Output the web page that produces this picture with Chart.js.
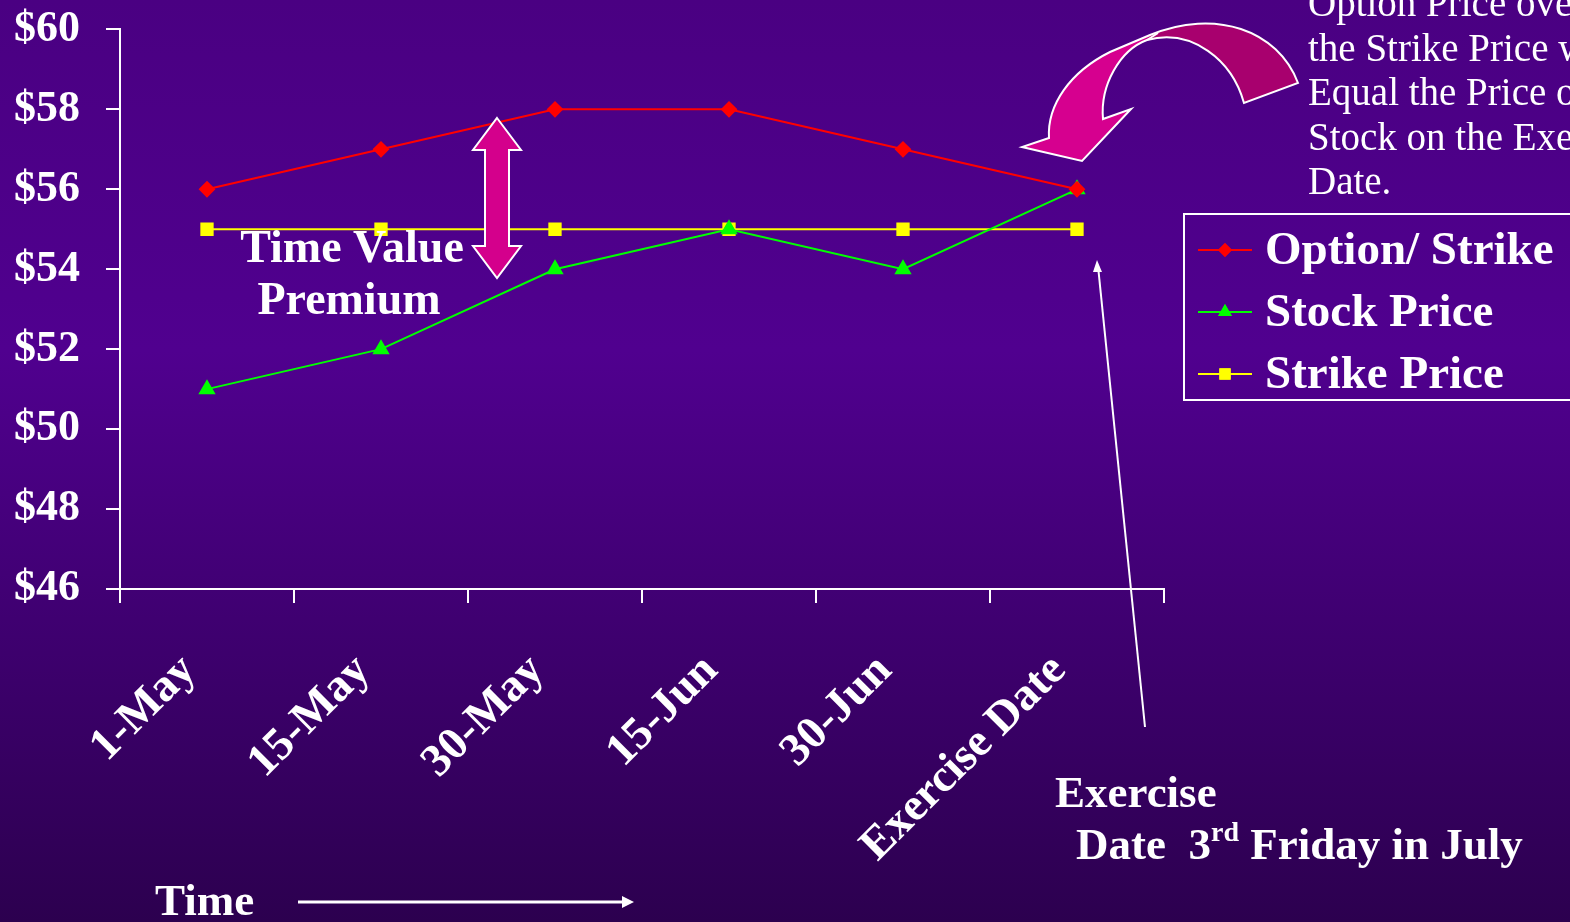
<!DOCTYPE html>
<html>
<head>
<meta charset="utf-8">
<script src="https://cdn.jsdelivr.net/npm/chart.js@4.4.0/dist/chart.umd.min.js"></script>
<style>
  html, body { margin: 0; padding: 0; background: #3c006a; }
  #wrap { width: 1570px; height: 922px; position: relative; }
</style>
</head>
<body>
<div id="wrap"><canvas id="optChart"></canvas></div>
<script>
// datos
var categorias = ['1-May', '15-May', '30-May', '15-Jun', '30-Jun', 'Exercise Date'];
var optionStrike = [56, 57, 58, 58, 57, 56];
var stockPrice = [51, 52, 54, 55, 54, 56];
var strikePrice = [55, 55, 55, 55, 55, 55];
var yTicks = [46, 48, 50, 52, 54, 56, 58, 60];

const serif = '"Liberation Serif", "Times New Roman", serif';

// fondo, flechas, textos y leyenda
const decor = {
  id: 'decor',
  beforeDraw(chart) {
    const c = chart.ctx;
    const g = c.createLinearGradient(0, 0, 0, chart.height);
    g.addColorStop(0, '#4a0082');
    g.addColorStop(0.38, '#50008f');
    g.addColorStop(1, '#2c004f');
    c.save();
    c.fillStyle = g;
    c.fillRect(0, 0, chart.width, chart.height);
    c.restore();
  },
  afterDraw(chart) {
    const c = chart.ctx;
    c.save();

    // flecha doble (time value premium)
    c.beginPath();
    c.moveTo(497, 118);
    c.lineTo(521, 150);
    c.lineTo(509, 150);
    c.lineTo(509, 246);
    c.lineTo(521, 246);
    c.lineTo(497, 278);
    c.lineTo(473, 246);
    c.lineTo(485, 246);
    c.lineTo(485, 150);
    c.lineTo(473, 150);
    c.closePath();
    c.fillStyle = '#d4008c';
    c.fill();
    c.strokeStyle = '#ffffff';
    c.lineWidth = 2;
    c.stroke();

    // flecha curva
    const g = c.createLinearGradient(1020, 0, 1300, 0);
    g.addColorStop(0, '#d6008f');
    g.addColorStop(0.45, '#d6008f');
    g.addColorStop(0.47, '#a8006e');
    g.addColorStop(1, '#a8006e');
    c.beginPath();
    c.moveTo(1298, 83);
    c.bezierCurveTo(1278, 30, 1215, 8, 1150, 35);
    c.lineTo(1110, 52);
    c.bezierCurveTo(1070, 72, 1047, 105, 1049, 138);
    c.lineTo(1022, 147);
    c.lineTo(1082, 161);
    c.lineTo(1131, 109);
    c.lineTo(1103, 119);
    c.bezierCurveTo(1100, 85, 1120, 50, 1147, 40);
    c.bezierCurveTo(1192, 28, 1232, 60, 1244, 103);
    c.closePath();
    c.fillStyle = g;
    c.fill();
    c.strokeStyle = '#ffffff';
    c.lineWidth = 2;
    c.stroke();
    c.beginPath();
    c.moveTo(1147, 40);
    c.lineTo(1158, 33);
    c.stroke();

    // flecha delgada hacia exercise date
    c.beginPath();
    c.moveTo(1145, 727);
    c.lineTo(1098, 266);
    c.stroke();
    c.beginPath();
    c.moveTo(1097, 260);
    c.lineTo(1102, 272);
    c.lineTo(1093, 272);
    c.closePath();
    c.fillStyle = '#ffffff';
    c.fill();

    // flecha del tiempo
    c.lineWidth = 3;
    c.beginPath();
    c.moveTo(298, 902);
    c.lineTo(624, 902);
    c.stroke();
    c.beginPath();
    c.moveTo(634, 902);
    c.lineTo(622, 896);
    c.lineTo(622, 908);
    c.closePath();
    c.fill();

    // textos
    c.fillStyle = '#ffffff';
    c.textBaseline = 'middle';
    c.textAlign = 'center';
    c.font = 'bold 46px ' + serif;
    c.fillText('Time Value', 352, 250);
    c.fillText('Premium', 349, 302);

    c.textAlign = 'left';
    c.font = 'bold 45px ' + serif;
    c.fillText('Time', 155, 903);
    c.fillText('Exercise', 1055, 795);
    let x = 1076;
    c.fillText('Date  3', x, 847);
    x += c.measureText('Date  3').width;
    c.font = 'bold 28px ' + serif;
    c.fillText('rd', x, 834);
    x += c.measureText('rd').width;
    c.font = 'bold 45px ' + serif;
    c.fillText(' Friday in July', x, 847);

    c.font = '39px ' + serif;
    const nota = ['Option Price over', 'the Strike Price will', 'Equal the Price of', 'Stock on the Exercise', 'Date.'];
    nota.forEach(function (t, i) { c.fillText(t, 1308, 6 + i * 44.5); });

    // leyenda
    c.strokeStyle = '#ffffff';
    c.lineWidth = 2;
    c.strokeRect(1184, 214, 420, 186);
    c.font = 'bold 47px ' + serif;
    chart.data.datasets.forEach(function (ds, i) {
      const y = 250 + i * 62;
      c.strokeStyle = ds.borderColor;
      c.lineWidth = 2;
      c.beginPath();
      c.moveTo(1198, y);
      c.lineTo(1252, y);
      c.stroke();
      c.fillStyle = ds.backgroundColor;
      Chart.helpers.drawPoint(c, { pointStyle: ds.pointStyle, radius: ds.pointRadius, borderWidth: 0 }, 1225, y);
      c.fill();
      c.fillStyle = '#ffffff';
      c.fillText(ds.label, 1265, y + 2);
    });
    c.restore();
  }
};

const dataO = {
  labels: categorias,
  datasets: [{
    label: 'Option/ Strike',
    data: optionStrike,
    borderColor: '#ff0000',
    backgroundColor: '#ff0000',
    pointStyle: 'rectRot',
    pointRadius: 7,
    borderWidth: 2
  }, {
    label: 'Stock Price',
    data: stockPrice,
    borderColor: '#00ff00',
    backgroundColor: '#00ff00',
    pointStyle: 'triangle',
    pointRadius: 8,
    borderWidth: 2
  }, {
    label: 'Strike Price',
    data: strikePrice,
    borderColor: '#ffff00',
    backgroundColor: '#ffff00',
    pointStyle: 'rect',
    pointRadius: 8,
    borderWidth: 2
  }]
};

const configO = {
  type: 'line',
  data: dataO,
  plugins: [decor],
  options: {
    responsive: true,
    maintainAspectRatio: false,
    animation: false,
    layout: { padding: { left: 14, top: 26, right: 406, bottom: 0 } },
    elements: { line: { tension: 0 }, point: { borderWidth: 0, hoverRadius: 8 } },
    plugins: {
      legend: { display: false },
      tooltip: { enabled: false }
    },
    scales: {
      x: {
        offset: true,
        afterFit: function (s) { s.height = 333; },
        grid: { display: true, offset: true, drawOnChartArea: false, color: '#ffffff', lineWidth: 2, tickLength: 14 },
        border: { color: '#ffffff', width: 2 },
        ticks: {
          color: '#ffffff',
          autoSkip: false,
          minRotation: 45,
          maxRotation: 45,
          padding: 41,
          labelOffset: -18,
          font: { family: serif, size: 46, weight: 'bold' }
        }
      },
      y: {
        min: 46,
        max: 60,
        afterFit: function (s) { s.width = 106; },
        afterBuildTicks: function (s) { s.ticks = yTicks.map(function (v) { return { value: v }; }); },
        grid: { display: true, drawOnChartArea: false, color: '#ffffff', lineWidth: 2, tickLength: 14 },
        border: { color: '#ffffff', width: 2 },
        ticks: {
          color: '#ffffff',
          crossAlign: 'far',
          font: { family: serif, size: 44, weight: 'bold' },
          callback: function (v) { return '$' + v; }
        }
      }
    }
  }
};

var optChart = new Chart(document.getElementById('optChart'), configO);
</script>
</body>
</html>
